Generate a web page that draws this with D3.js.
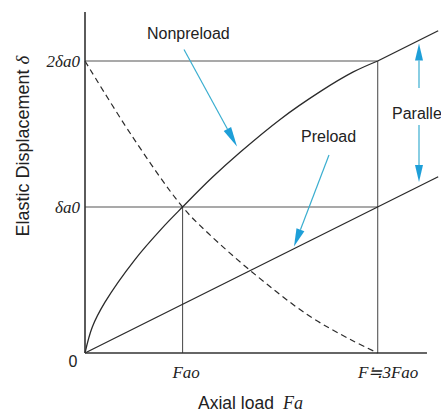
<!DOCTYPE html>
<html><head><meta charset="utf-8">
<script src="https://cdn.jsdelivr.net/npm/d3@7"></script>
<style>
html,body{margin:0;padding:0;background:#fff;overflow:hidden}
</style></head>
<body><svg id="c" width="441" height="412"></svg>
<script>
// ---- data (units: x in Fao, y in δa0) ----
const xTickValues = [1, 3];
const xTickLabels = ["Fao", "F≒3Fao"];
const yTickValues = [1, 2];
const yTickLabels = ["δa0", "2δa0"];
const originLabel = "0";
const xAxisTitle = "Axial load";
const xAxisVar = "Fa";
const yAxisTitle = "Elastic Displacement ";
const yAxisVar = "δ";

const nonpreloadX = [0, 0.075, 0.205, 0.512, 0.786, 1, 1.3, 1.59, 2.0, 2.41, 2.75, 3.0];
const nonpreloadY = [0, 0.178, 0.348, 0.64, 0.852, 1, 1.2, 1.375, 1.6, 1.79, 1.925, 2.0];
const nonpreloadTailX = [3.0, 3.62];
const nonpreloadTailY = [2.0, 2.207];
const preloadX = [0, 3.62];
const preloadY = [0, 1.207];
const dashedX = [0, 0.478, 1, 1.263, 1.708, 2.285, 2.73, 3];
const dashedY = [2, 1.49, 1, 0.82, 0.557, 0.26, 0.089, 0];
const xAxisMax = 3.505;
const yAxisMax = 2.336;

const svg = d3.select("#c");
const x = d3.scaleLinear().domain([0, 3]).range([85, 377.7]);
const y = d3.scaleLinear().domain([0, 2]).range([353, 61]);
const zip = (a, b) => a.map((v, i) => [v, b[i]]);
const line = d3.line().x(d => x(d[0])).y(d => y(d[1]));
const smooth = d3.line().x(d => x(d[0])).y(d => y(d[1])).curve(d3.curveCatmullRom.alpha(0.5));
const ink = "#2b2b2b";
const blue = "#1e9fd8";
const serif = "'Liberation Serif','Times New Roman',serif";
const sans = "'Liberation Sans',Arial,sans-serif";

// guide lines
const g = svg.append("g").attr("stroke", "#555").attr("stroke-width", 1.1).attr("fill", "none");
g.append("path").attr("d", line([[0, 2], [3, 2]]));
g.append("path").attr("d", line([[0, 1], [3, 1]]));
g.append("path").attr("d", line([[1, 0], [1, 1]]));
g.append("path").attr("d", line([[3, 0], [3, 2]]));

// curves
svg.append("path").attr("d", smooth(zip(nonpreloadX, nonpreloadY)))
  .attr("fill", "none").attr("stroke", ink).attr("stroke-width", 1.3);
svg.append("path").attr("d", line(zip(nonpreloadTailX, nonpreloadTailY)))
  .attr("fill", "none").attr("stroke", ink).attr("stroke-width", 1.3);
svg.append("path").attr("d", line(zip(preloadX, preloadY)))
  .attr("fill", "none").attr("stroke", ink).attr("stroke-width", 1.3);
svg.append("path").attr("d", smooth(zip(dashedX, dashedY)))
  .attr("fill", "none").attr("stroke", ink).attr("stroke-width", 1.2).attr("stroke-dasharray", "6,4");

// axes
svg.append("path").attr("d", line([[0, 0], [xAxisMax, 0]])).attr("stroke", "#333").attr("stroke-width", 1.6);
svg.append("path").attr("d", line([[0, 0], [0, yAxisMax]])).attr("stroke", "#333").attr("stroke-width", 1.6);

// tick labels
const xl = svg.append("g").attr("transform", "translate(0,378)")
  .call(d3.axisBottom(x).tickValues(xTickValues).tickFormat((d, i) => xTickLabels[i]).tickSize(0));
xl.select(".domain").remove();
xl.selectAll("text").attr("y", 0).attr("dy", 0)
  .attr("font-family", serif).attr("font-style", "italic").attr("font-size", 17).attr("fill", "#222")
  .attr("dx", (d, i) => i === 0 ? 3 : 10);

const yl = svg.append("g").attr("transform", "translate(80,0)")
  .call(d3.axisLeft(y).tickValues(yTickValues).tickFormat((d, i) => yTickLabels[i]).tickSize(0));
yl.select(".domain").remove();
yl.selectAll("text").attr("x", 0).attr("dy", "0.32em")
  .attr("font-family", serif).attr("font-style", "italic").attr("font-size", 17).attr("fill", "#222");

svg.append("text").attr("x", x(0) - 12).attr("y", y(0) + 14).attr("text-anchor", "middle")
  .attr("font-family", sans).attr("font-size", 16).attr("fill", "#222").text(originLabel);

// axis titles
const xt = svg.append("text").attr("x", 198).attr("y", 409).attr("font-family", sans).attr("font-size", 17.5).attr("fill", "#222");
xt.append("tspan").text(xAxisTitle);
xt.append("tspan").attr("dx", 9).attr("font-family", serif).attr("font-style", "italic").attr("font-size", 18).text(xAxisVar);

const yt = svg.append("text").attr("transform", "translate(28.5,146) rotate(-90)").attr("text-anchor", "middle")
  .attr("font-family", sans).attr("font-size", 18).attr("fill", "#222");
yt.append("tspan").text(yAxisTitle);
yt.append("tspan").attr("font-family", serif).attr("font-style", "italic").attr("font-size", 19).text(yAxisVar);

// annotations
const ann = svg.append("g").attr("font-family", sans).attr("font-size", 16).attr("fill", "#222");
ann.append("text").attr("x", 147).attr("y", 39).text("Nonpreload");
ann.append("text").attr("x", 301).attr("y", 142).text("Preload");
ann.append("text").attr("x", 392).attr("y", 119).text("Parallel");

function arrow(x1, y1, x2, y2, len, half) {
  const dx = x2 - x1, dy = y2 - y1, L = Math.hypot(dx, dy);
  const ux = dx / L, uy = dy / L;
  const bx = x2 - ux * len, by = y2 - uy * len;
  svg.append("line").attr("x1", x1).attr("y1", y1).attr("x2", bx).attr("y2", by)
    .attr("stroke", "#3aaed0").attr("stroke-width", 1.2);
  svg.append("path").attr("d", `M${x2},${y2}L${bx - uy * half},${by + ux * half}L${bx + uy * half},${by - ux * half}Z`)
    .attr("fill", blue);
}
arrow(184, 49.5, 237, 146.5, 20, 4.2);
arrow(329, 155, 294, 246.5, 18, 4.2);
arrow(419, 88, 419, 43.5, 17, 4);
arrow(419, 125, 419, 182, 17, 4);
</script></body></html>
